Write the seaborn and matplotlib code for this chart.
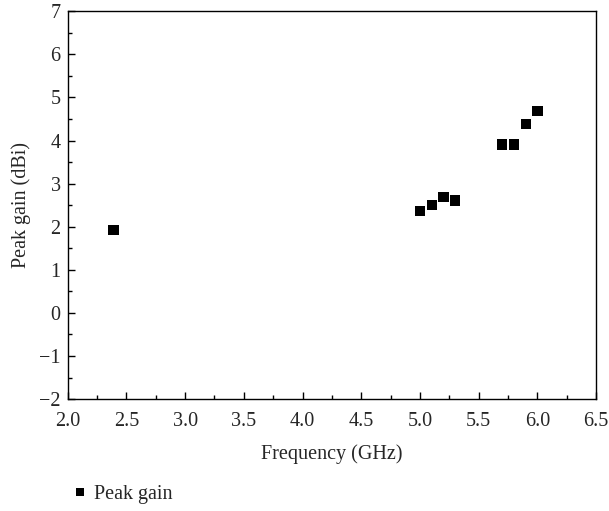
import matplotlib
matplotlib.use("Agg")
import matplotlib.pyplot as plt
import seaborn as sns
import pandas as pd
from matplotlib.ticker import MultipleLocator

# ---- data ----
freq_ghz = [2.39, 5.0, 5.1, 5.2, 5.3, 5.7, 5.8, 5.9, 6.0]
peak_gain = [1.93, 2.37, 2.50, 2.69, 2.61, 3.91, 3.91, 4.39, 4.69]
series_name = "Peak gain"

df = pd.DataFrame({"Frequency": freq_ghz, "Gain": peak_gain, "Serie": series_name})

sns.set_style("ticks")
plt.rcParams["font.family"] = ["Liberation Serif", "DejaVu Serif"]
FS = 14.5

fig = plt.figure(figsize=(6.09, 5.11), dpi=100)
ax = fig.add_axes([0.111, 0.219, 0.868, 0.759])

sns.scatterplot(data=df, x="Frequency", y="Gain", hue="Serie", palette=["black"],
                marker="s", s=55, edgecolor="black", linewidth=0, ax=ax, legend=True)

ax.set_xlim(2.0, 6.5)
ax.set_ylim(-2, 7)
ax.xaxis.set_major_locator(MultipleLocator(0.5))
ax.xaxis.set_minor_locator(MultipleLocator(0.25))
ax.yaxis.set_major_locator(MultipleLocator(1))
ax.yaxis.set_minor_locator(MultipleLocator(0.5))
ax.set_xticklabels([f"{v:.1f}" for v in ax.get_xticks()])
ax.set_yticklabels([f"{int(v)}".replace("-", "\u2212") for v in ax.get_yticks()])
ax.tick_params(which="major", direction="in", length=5, width=1, labelsize=FS, color="black")
ax.tick_params(which="minor", direction="in", length=3, width=1, color="black")
ax.tick_params(axis="x", which="major", pad=9)
ax.tick_params(axis="y", which="major", pad=5)
for sp in ax.spines.values():
    sp.set_visible(True)
    sp.set_color("black")
    sp.set_linewidth(1)

ax.set_xlabel("Frequency (GHz)", fontsize=FS, labelpad=10)
ax.set_ylabel("Peak gain (dBi)", fontsize=FS, labelpad=6)

handles, labels = ax.get_legend_handles_labels()
ax.get_legend().remove()
fig.legend(handles, labels, loc="center left", bbox_to_anchor=(0.082, 0.033),
           frameon=False, fontsize=FS, handletextpad=0.1, handlelength=1.2,
           markerscale=0.75)

fig.savefig("out.png", dpi=100)
